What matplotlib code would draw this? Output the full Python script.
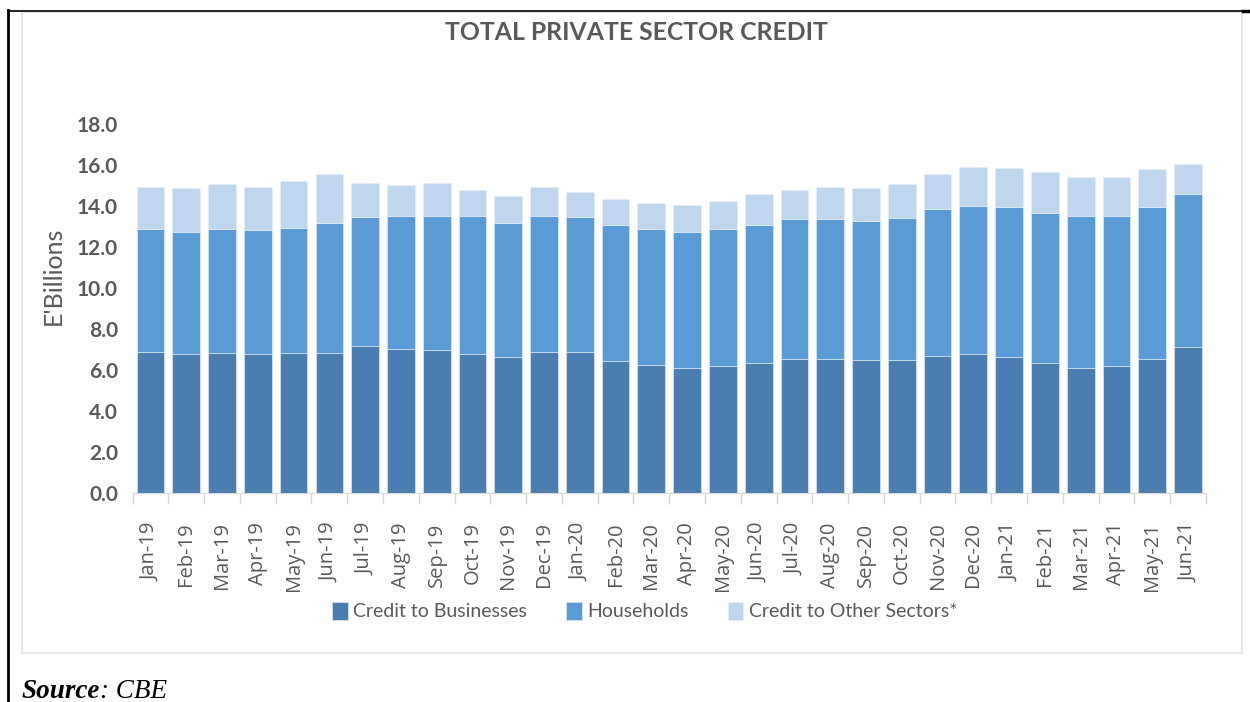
import numpy as np
from matplotlib import pyplot as plt
from matplotlib.patches import Rectangle
from matplotlib.lines import Line2D

months = ['Jan-19', 'Feb-19', 'Mar-19', 'Apr-19', 'May-19', 'Jun-19',
          'Jul-19', 'Aug-19', 'Sep-19', 'Oct-19', 'Nov-19', 'Dec-19',
          'Jan-20', 'Feb-20', 'Mar-20', 'Apr-20', 'May-20', 'Jun-20',
          'Jul-20', 'Aug-20', 'Sep-20', 'Oct-20', 'Nov-20', 'Dec-20',
          'Jan-21', 'Feb-21', 'Mar-21', 'Apr-21', 'May-21', 'Jun-21']

# E' billions
businesses = [6.90, 6.77, 6.85, 6.77, 6.85, 6.85, 7.18, 7.02, 6.98, 6.77,
              6.66, 6.89, 6.89, 6.46, 6.24, 6.11, 6.20, 6.37, 6.56, 6.53,
              6.48, 6.48, 6.69, 6.77, 6.64, 6.33, 6.12, 6.22, 6.56, 7.11]
households = [5.97, 5.96, 6.02, 6.06, 6.08, 6.32, 6.27, 6.49, 6.53, 6.74,
              6.50, 6.62, 6.59, 6.60, 6.63, 6.62, 6.67, 6.69, 6.82, 6.85,
              6.80, 6.94, 7.18, 7.22, 7.30, 7.31, 7.38, 7.28, 7.41, 7.49]
other_sectors = [2.07, 2.16, 2.20, 2.10, 2.29, 2.39, 1.66, 1.50, 1.60, 1.29,
                 1.34, 1.40, 1.22, 1.27, 1.26, 1.30, 1.39, 1.51, 1.42, 1.56,
                 1.61, 1.67, 1.71, 1.91, 1.93, 2.02, 1.91, 1.93, 1.82, 1.43]

series_names = ['Credit to Businesses', 'Households', 'Credit to Other Sectors*']
colors = ['#4a7eb0', '#5b9bd5', '#bfd7ee']
grey = '#595959'

plt.rcParams['font.family'] = ['Lato', 'DejaVu Sans']

W, H = 1250, 702
fig = plt.figure(figsize=(W / 100, H / 100), dpi=100)

def px(x, y):
    return x / W, 1 - y / H

# page frame lines and chart box
fig.add_artist(Line2D([px(8, 0)[0], 1.0], [px(0, 10.5)[1]] * 2, color='black', lw=1.2))
fig.add_artist(Line2D([px(8, 0)[0]] * 2, [px(0, 10)[1], 0.0], color='black', lw=2))
fig.add_artist(Line2D([px(1243, 0)[0], 1.0], [px(0, 11)[1]] * 2, color='black', lw=2.5))
x0, y0 = px(22, 653)
x1, y1 = px(1242, 12)
fig.add_artist(Rectangle((x0, y0), x1 - x0, y1 - y0, transform=fig.transFigure,
                         fill=False, edgecolor='#e3e3e3', lw=1.2))

l, b = px(132.6, 493.3)
r, t = px(1205.9, 124)
ax = fig.add_axes([l, b, r - l, t - b])

x = np.arange(len(months))
bottom = np.zeros(len(months))
handles = []
for vals, name, c in zip([businesses, households, other_sectors], series_names, colors):
    bars = ax.bar(x, vals, width=0.775, bottom=bottom, color=c,
                  edgecolor='#e8f0f8', linewidth=0.4, label=name)
    bottom += np.array(vals)
    handles.append(bars)

ax.set_xlim(-0.5, len(months) - 0.5)
ax.set_ylim(0, 18)
yt = np.arange(0, 18.1, 2)
ax.set_yticks(yt)
ax.set_yticklabels([f'{v:.1f}' for v in yt], fontsize=15, fontweight='bold', color=grey)
ax.tick_params(axis='y', length=0, pad=10.5)

ax.set_xticks(x)
ax.set_xticklabels(months, rotation=90, fontsize=14.5, color=grey, family='Open Sans')
ax.tick_params(axis='x', length=0, pad=21)
ax.set_xticks(np.arange(-0.5, len(months), 1), minor=True)
ax.tick_params(axis='x', which='minor', length=8, color='#d9d9d9', width=1)

for s in ['top', 'right', 'left']:
    ax.spines[s].set_visible(False)
ax.spines['bottom'].set_color('#d9d9d9')

fig.text(*px(636, 32), 'TOTAL PRIVATE SECTOR CREDIT', ha='center', va='center',
         fontsize=17.8, fontweight='bold', color=grey)
fig.text(*px(53, 276), "E'Billions", rotation=90, ha='center', va='center',
         fontsize=18, color=grey)

leg = fig.legend(handles=handles, labels=series_names, ncol=3, loc='center',
                 bbox_to_anchor=px(645, 611), frameon=False, fontsize=14,
                 handlelength=0.8, handleheight=1.1, handletextpad=0.3,
                 columnspacing=2.0)
for txt in leg.get_texts():
    txt.set_color(grey)

# source note: bold italic label followed by italic body
src = fig.text(*px(22, 698), 'Source', fontsize=19.5, fontweight='bold', style='italic',
               family='Liberation Serif', va='baseline')
fig.canvas.draw()
bb = src.get_window_extent()
fig.text(bb.x1 / W, px(0, 698)[1], ': CBE', fontsize=19.5, style='italic',
         family='Liberation Serif', va='baseline')

fig.savefig('out.png', dpi=100)
